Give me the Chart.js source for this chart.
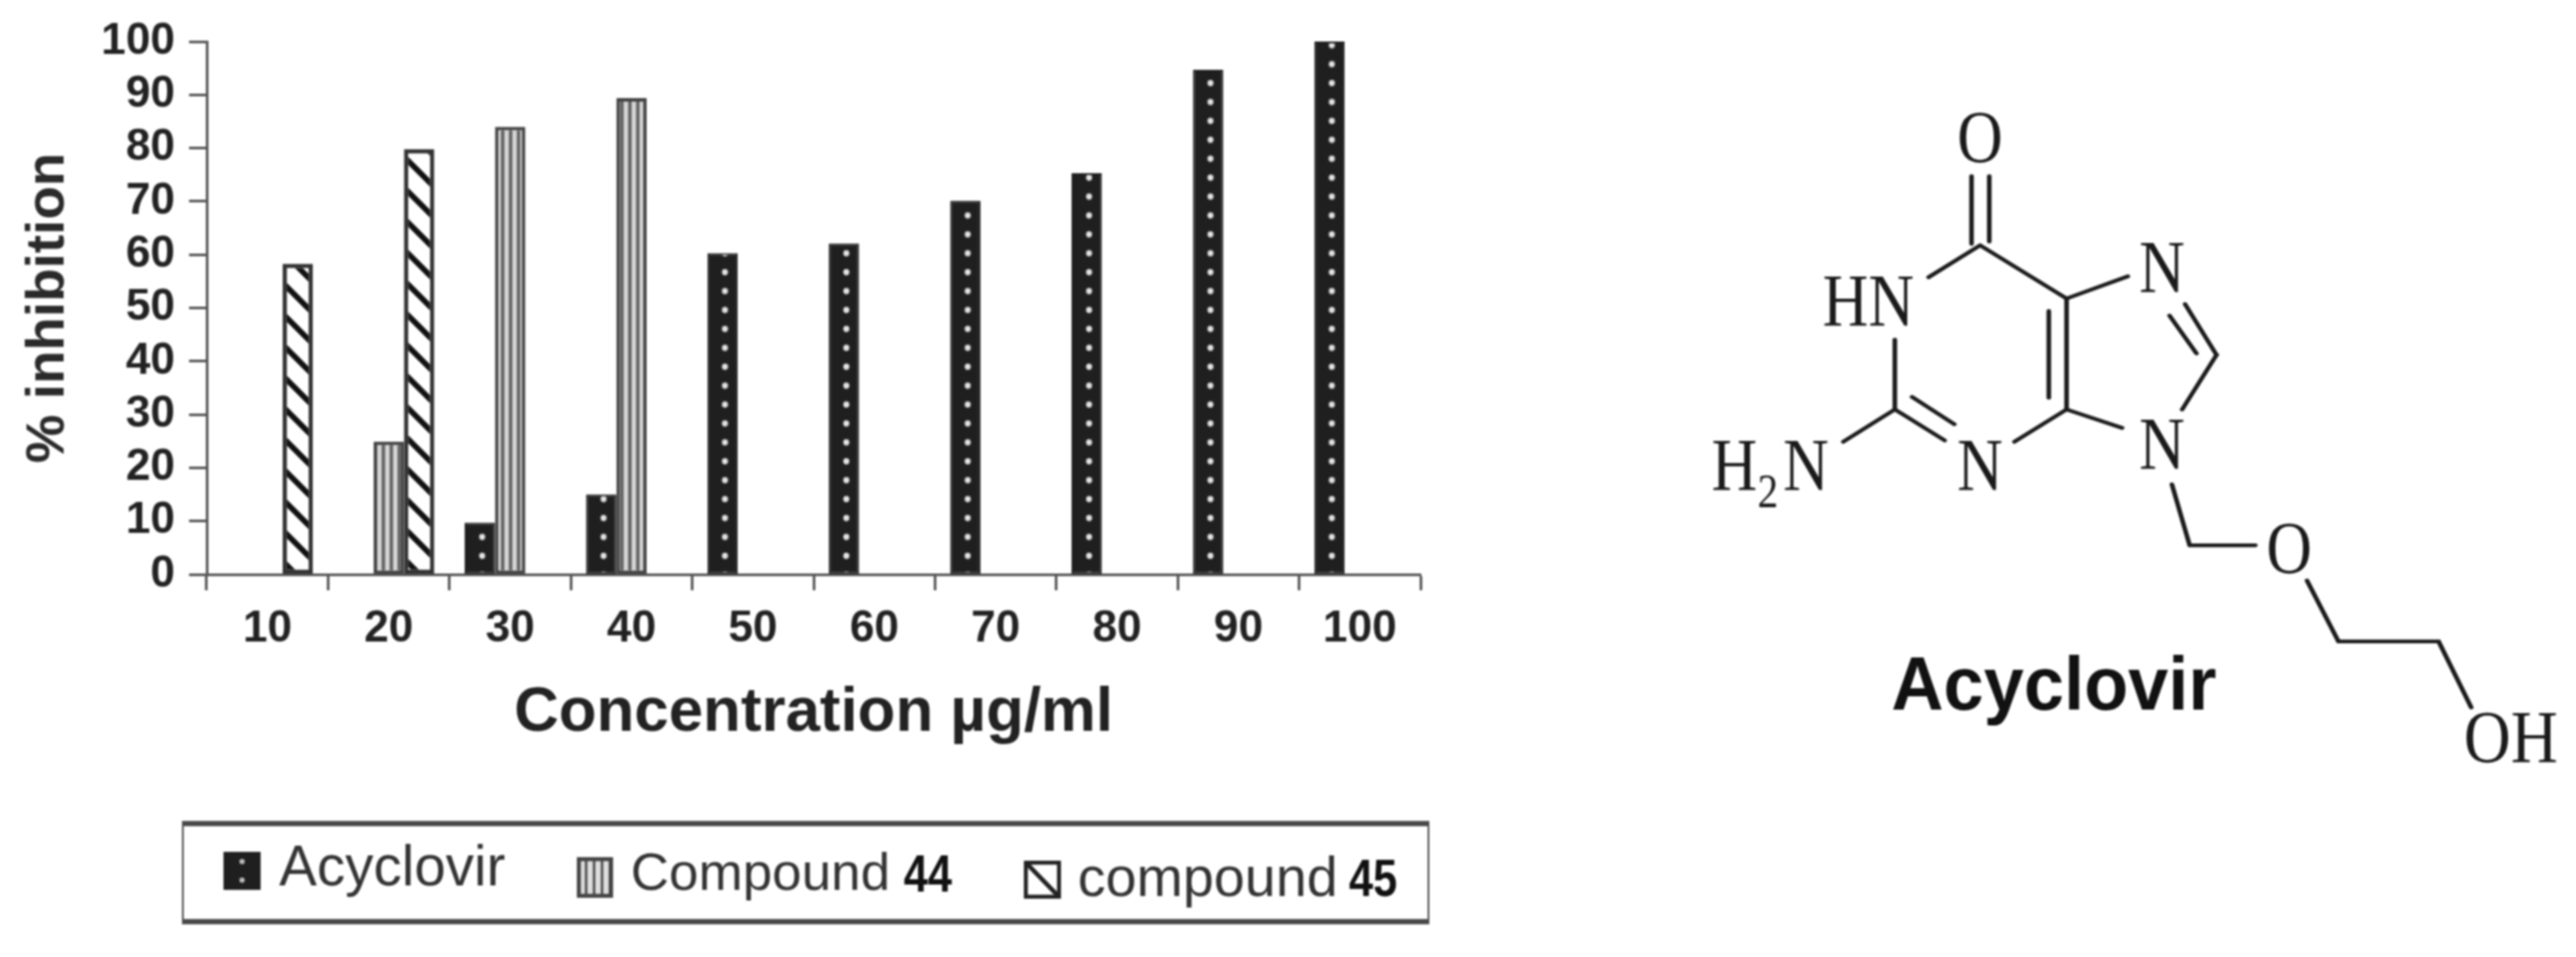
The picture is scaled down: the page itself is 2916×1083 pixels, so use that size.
<!DOCTYPE html>
<html>
<head>
<meta charset="utf-8">
<script src="https://cdn.jsdelivr.net/npm/chart.js@4"></script>
<style>
html,body{margin:0;padding:0;background:#fff;width:2916px;height:1083px;overflow:hidden}
#wrap{position:absolute;left:0;top:0;width:2916px;height:1083px;filter:blur(0.9px)}
#legendBox{position:absolute;left:206px;top:929px;width:1408px;height:105px;border:solid #4a4a4a;border-width:6px 2px 6px 2px;background:#fff}
.lg{position:absolute;font-family:"Liberation Sans",Arial,sans-serif;line-height:60px;color:#333;white-space:nowrap}
.num{font-weight:bold;color:#111;transform:scaleX(.82);transform-origin:left center}
canvas.sw{position:absolute}
svg{position:absolute;left:1900px;top:80px}
</style>
</head>
<body>
<div id="wrap">
<canvas id="c" width="2916" height="1083" style="position:absolute;left:0;top:0;width:2916px;height:1083px"></canvas>
<div id="legendBox"></div>
<div id="legendItems"></div>
<svg id="mol" width="1016" height="820" viewBox="0 0 1568 1568" preserveAspectRatio="none"></svg>
</div>
<script>
const categories = ['10','20','30','40','50','60','70','80','90','100'];
const yTicks = [0,10,20,30,40,50,60,70,80,90,100];
const acyclovir = [null,null,9.7,15,60.3,62.1,70.1,75.3,94.7,100];
const compound44 = [null,24.9,84,89.4,null,null,null,null,null,null];
const compound45 = [58.3,79.8,null,null,null,null,null,null,null,null];
const yTitle = '% inhibition';
const xTitle = 'Concentration µg/ml';

function tile(w,h,draw){const t=document.createElement('canvas');t.width=w;t.height=h;draw(t.getContext('2d'));return t;}
const ctxMain=document.getElementById('c').getContext('2d');

const dotTile=tile(137,21,g=>{g.fillStyle='#1f1f1f';g.fillRect(0,0,137,21);g.fillStyle='#e4e4e4';g.beginPath();g.arc(68,10,3.4,0,7);g.fill();});
const dotPattern=ctxMain.createPattern(dotTile,'repeat');
dotPattern.setTransform(new DOMMatrix().translate(271-68*137.4/137,629-10*21.4/21).scale(137.4/137,21.4/21));

const stripeTile=tile(9,9,g=>{g.fillStyle='#d4d4d4';g.fillRect(0,0,9,9);g.fillStyle='#666';g.fillRect(0,0,4,9);});
const stripePattern=ctxMain.createPattern(stripeTile,'repeat');

const hatchTile=tile(35,35,g=>{g.fillStyle='#fff';g.fillRect(0,0,35,35);g.strokeStyle='#111';g.lineWidth=6.5;g.lineCap='square';
  for(const d of [-35,0,35]){g.beginPath();g.moveTo(d-5,-5);g.lineTo(d+40,40);g.stroke();}});
const hatchPattern=ctxMain.createPattern(hatchTile,'repeat');

new Chart(ctxMain,{
  type:'bar',
  data:{labels:categories,datasets:[
    {label:'Acyclovir',data:acyclovir,backgroundColor:dotPattern,borderColor:'#1f1f1f',borderWidth:2},
    {label:'Compound 44',data:compound44,backgroundColor:stripePattern,borderColor:'#444',borderWidth:4},
    {label:'compound 45',data:compound45,backgroundColor:hatchPattern,borderColor:'#333',borderWidth:5}
  ]},
  options:{
    responsive:false,animation:false,
    layout:{padding:{left:0,right:1308,top:47,bottom:233}},
    plugins:{legend:{display:false},tooltip:{enabled:false},title:{display:false}},
    datasets:{bar:{categoryPercentage:0.75,barPercentage:1,borderSkipped:false}},
    scales:{
      x:{
        grid:{offset:true,drawOnChartArea:false,drawTicks:true,tickLength:18,tickColor:'#555',tickWidth:3},
        border:{color:'#555',width:3},
        ticks:{color:'#222',font:{family:'"Liberation Sans"',weight:'bold',size:50},padding:14,maxRotation:0,autoSkip:false},
        title:{display:true,text:xTitle,color:'#222',font:{family:'"Liberation Sans"',weight:'bold',size:70},padding:{top:0,bottom:0}},
        afterFit:s=>{s.height=200;s.paddingLeft=0;s.paddingRight=0;}
      },
      y:{
        min:0,max:100,
        afterBuildTicks:s=>{s.ticks=yTicks.map(v=>({value:v}));},
        grid:{drawOnChartArea:false,drawTicks:true,tickLength:20,tickColor:'#555',tickWidth:3},
        border:{color:'#555',width:3},
        ticks:{color:'#222',font:{family:'"Liberation Sans"',weight:'bold',size:50},padding:16,autoSkip:false},
        title:{display:true,text:yTitle,color:'#2a2a2a',font:{family:'"Liberation Sans"',weight:'bold',size:62},padding:{top:18,bottom:0}},
        afterFit:s=>{s.width=234;s.paddingTop=0;s.paddingBottom=0;}
      }
    }
  }
});

// HTML legend
const legendSeries=[
  {name:'Acyclovir',num:'',kind:'dots',sx:253,sy:964,sw:42,sh:43,tx:316,ty:950,nx:0,fs:64},
  {name:'Compound',num:'44',kind:'stripes',sx:653,sy:970,sw:41,sh:46,tx:714,ty:957,nx:1023,fs:60},
  {name:'compound',num:'45',kind:'hatch',sx:1159,sy:974,sw:42,sh:43,tx:1220,ty:962,nx:1527,fs:63}
];
const li=document.getElementById('legendItems');
legendSeries.forEach(s=>{
  const cv=document.createElement('canvas');cv.className='sw';cv.width=s.sw;cv.height=s.sh;
  cv.style.left=s.sx+'px';cv.style.top=s.sy+'px';
  const g=cv.getContext('2d');
  if(s.kind==='dots'){g.fillStyle='#1f1f1f';g.fillRect(0,0,s.sw,s.sh);g.fillStyle='#bbb';
    for(const y of [11,32]){g.beginPath();g.arc(s.sw/2,y,3,0,7);g.fill();}}
  else if(s.kind==='stripes'){g.fillStyle='#ddd';g.fillRect(0,0,s.sw,s.sh);g.fillStyle='#555';
    for(let x=0;x<s.sw;x+=9)g.fillRect(x,0,3,s.sh);g.strokeStyle='#444';g.lineWidth=5;g.strokeRect(2,2,s.sw-4,s.sh-4);}
  else{g.fillStyle='#fff';g.fillRect(0,0,s.sw,s.sh);g.strokeStyle='#222';g.lineWidth=5;
    g.beginPath();g.moveTo(4,4);g.lineTo(s.sw-4,s.sh-4);g.stroke();g.lineWidth=5;g.strokeRect(2,2,s.sw-4,s.sh-4);}
  li.appendChild(cv);
  const t=document.createElement('div');t.className='lg';t.textContent=s.name;t.style.fontSize=s.fs+'px';t.style.left=s.tx+'px';t.style.top=s.ty+'px';li.appendChild(t);
  if(s.num){const n=document.createElement('div');n.className='lg num';n.textContent=s.num;n.style.fontSize='60px';n.style.left=s.nx+'px';n.style.top=(s.ty+2)+'px';li.appendChild(n);}
});

// Acyclovir structure (inline SVG, units of viewBox)
const bonds=[
 [512,228,512,375],[543,228,543,370],[527,378,437,447],[527,378,678,493],[678,493,785,445],
 [678,493,678,733],[647,520,647,708],[885,505,940,615],[858,530,905,612],[940,615,880,733],
 [678,733,775,773],[678,733,587,803],[378,733,378,582],[378,733,465,800],[408,706,482,765],
 [378,733,288,803],[862,895,893,1027],[893,1027,1008,1027],[1098,1103,1153,1235],[1153,1235,1328,1235],[1328,1235,1385,1378]
];
const atoms=[
 ['O',487,198,160,.69],['HN',252,553,160,.69],['N',805,480,160,.69],['N',487,908,160,.69],
 ['N',805,862,160,.69],['H',58,908,160,.69],['2',138,945,105,.69],['N',183,908,160,.69],
 ['O',1027,1088,160,.69],['OH',1372,1497,160,.71]
];
const NS='http://www.w3.org/2000/svg',mol=document.getElementById('mol');
bonds.forEach(b=>{const l=document.createElementNS(NS,'line');
  l.setAttribute('x1',b[0]);l.setAttribute('y1',b[1]);l.setAttribute('x2',b[2]);l.setAttribute('y2',b[3]);
  l.setAttribute('stroke','#1a1a1a');l.setAttribute('stroke-width','8');l.setAttribute('stroke-linecap','round');mol.appendChild(l);});
atoms.forEach(a=>{const t=document.createElementNS(NS,'text');t.textContent=a[0];
  t.setAttribute('transform',`translate(${a[1]},${a[2]}) scale(${a[4]},1)`);
  t.setAttribute('font-family','"Liberation Serif",serif');t.setAttribute('font-size',a[3]);t.setAttribute('fill','#1a1a1a');mol.appendChild(t);});
const cap=document.createElementNS(NS,'text');cap.textContent='Acyclovir';
cap.setAttribute('transform','translate(372,1382) scale(.774,1)');cap.setAttribute('font-family','"Liberation Sans",sans-serif');
cap.setAttribute('font-weight','bold');cap.setAttribute('font-size','163');cap.setAttribute('fill','#111');mol.appendChild(cap);
</script>
</body>
</html>
